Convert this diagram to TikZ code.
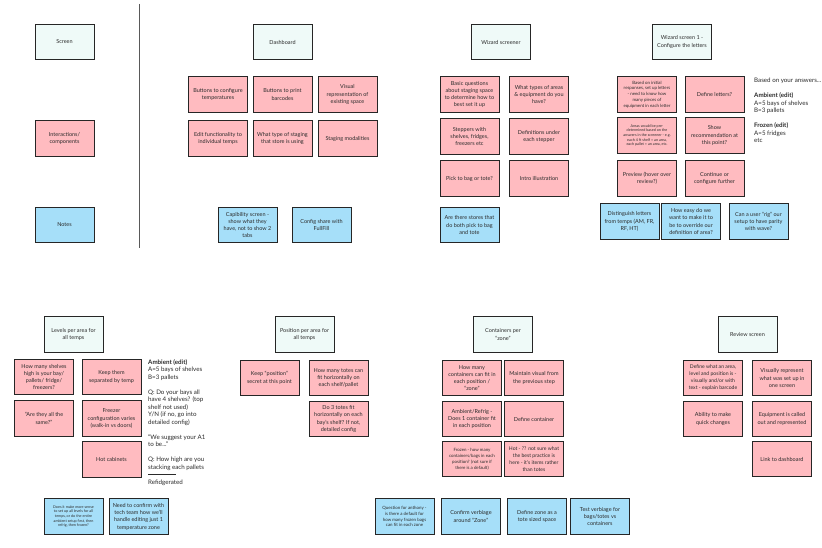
\documentclass[tikz,border=0pt]{standalone}
\usepackage{fontspec}
\setmainfont{Lato}
\definecolor{mintc}{HTML}{EFFAF8}
\definecolor{pinkc}{HTML}{FFBBC0}
\definecolor{bluec}{HTML}{A6DFF9}
\definecolor{linec}{HTML}{262626}
\definecolor{txtc}{HTML}{2B2B2B}
\begin{document}
\begin{tikzpicture}[x=1pt,y=-1pt,
  base/.style={draw=linec, line width=0.8pt, minimum width=59pt, minimum height=35.5pt, inner sep=0.5pt, align=center, text=txtc, font=\fontsize{5.5}{7.3}\selectfont},
  scr/.style={base, fill=mintc},
  comp/.style={base, fill=pinkc},
  note/.style={base, fill=bluec},
  mid/.style={font=\fontsize{5.1}{7}\selectfont},
  small/.style={font=\fontsize{4.4}{5.8}\selectfont},
  tiny/.style={font=\fontsize{3.7}{4.7}\selectfont},
  side/.style={anchor=north west, align=left, inner sep=0pt, text=txtc, font=\fontsize{6.2}{7.5}\selectfont}]
\path[use as bounding box, fill=white] (0,0) rectangle (822,548);
% left legend
\node[scr] (lscreen) at (64.5,42) {Screen};
\node[comp] (lcomp) at (64.5,138.5) {Interactions/\\components};
\node[note] (lnotes) at (64.5,225) {Notes};
\coordinate (vtop) at (139,4);
\coordinate (vbot) at (139,248);
\draw[draw=black!65, line width=0.9pt] (vtop) -- (vbot);
% Dashboard
\node[scr] (dash) at (282.5,42) {Dashboard};
\node[comp] (d1) at (218,94.5) {Buttons to configure\\temperatures};
\node[comp] (d2) at (282.5,94.5) {Buttons to print\\barcodes};
\node[comp] (d3) at (347.5,94.5) {Visual\\representation of\\existing space};
\node[comp] (d4) at (218,138.5) {Edit functionality to\\individual temps};
\node[comp] (d5) at (282.5,138.5) {What type of staging\\that store is using};
\node[comp] (d6) at (347.5,138.5) {Staging modalities};
\node[note] (dn1) at (247.5,225) {Capibility screen -\\show what they\\have, not to show 2\\tabs};
\node[note] (dn2) at (321.5,225) {Config share with\\FullFill};
% Wizard screener
\node[scr] (wsc) at (501,42) {Wizard screener};
\node[comp] (w1) at (469.5,94.5) {Basic questions\\about staging space\\to determine how to\\best set it up};
\node[comp] (w2) at (539,94.5) {What types of areas\\\& equipment do you\\have?};
\node[comp] (w3) at (469.5,136.5) {Steppers with\\shelves, fridges,\\freezers etc};
\node[comp] (w4) at (539,136.5) {Definitions under\\each stepper};
\node[comp] (w5) at (469.5,178.5) {Pick to bag or tote?};
\node[comp] (w6) at (539,178.5) {Intro illustration};
\node[note] (wn1) at (469.5,225) {Are there stores that\\do both pick to bag\\and tote};
% Wizard screen 1
\node[scr] (ws1) at (682,42) {Wizard screen 1 -\\Configure the letters};
\node[comp, small] (l1) at (647,94.5) {Based on initial\\responses, set up letters\\- need to know how\\many pieces of\\equipment in each letter};
\node[comp] (l2) at (714.5,94.5) {Define letters?};
\node[comp, tiny] (l3) at (647,135.5) {Areas would be pre-\\determined based on the\\answers in the screener - e.g.\\each 4 ft shelf = an area,\\each pallet = an area, etc.};
\node[comp] (l4) at (714.5,135.5) {Show\\recommendation at\\this point?};
\node[comp] (l5) at (647,178.5) {Preview (hover over\\review?)};
\node[comp] (l6) at (714.5,178.5) {Continue or\\configure further};
\node[note] (ln1) at (629.5,221.5) {Distinguish letters\\from temps (AM, FR,\\RF, HT)};
\node[note] (ln2) at (691,221.5) {How easy do we\\want to make it to\\be to override our\\definition of area?};
\node[note] (ln3) at (758.5,221.5) {Can a user ``rig'' our\\setup to have parity\\with wave?};
\node[side] (ans) at (754,78) {Based on your answers...\\[7.5pt]\textbf{Ambient (edit)}\\A=5 bays of shelves\\B=3 pallets\\[7.5pt]\textbf{Frozen (edit)}\\A=5 fridges\\etc};
% Levels per area
\node[scr] (lev) at (73.5,334.5) {Levels per area for\\all temps};
\node[comp] (v1) at (44,377) {How many shelves\\high is your bay/\\pallets/ fridge/\\freezers?};
\node[comp] (v2) at (111.5,377) {Keep them\\separated by temp};
\node[comp] (v3) at (44,418.5) {``Are they all the\\same?''};
\node[comp] (v4) at (111.5,418.5) {Freezer\\configuration varies\\(walk-in vs doors)};
\node[comp] (v5) at (111.5,459.5) {Hot cabinets};
\node[side] (amb) at (148,359) {\textbf{Ambient (edit)}\\A=5 bays of shelves\\B=3 pallets\\[7.5pt]Q: Do your bays all\\have 4 shelves? (top\\shelf not used)\\Y/N (if no, go into\\detailed config)\\[7.5pt]``We suggest your A1\\to be...''\\[7.5pt]Q: How high are you\\stacking each pallets\\\rule[2pt]{28pt}{0.4pt}\\Refidgerated};
\node[note, tiny] (vn1) at (73.5,516.5) {Does it make more sense\\to set up all levels for all\\temps, or do the entire\\ambient setup first, then\\refrig, then frozen?};
\node[note] (vn2) at (138.5,516.5) {Need to confirm with\\tech team how we'll\\handle editing just 1\\temperature zone};
% Position per area
\node[scr] (pos) at (304.5,334.5) {Position per area for\\all temps};
\node[comp] (p1) at (269.5,378) {Keep ``position''\\secret at this point};
\node[comp] (p2) at (338.5,378) {How many totes can\\fit horizontally on\\each shelf/pallet};
\node[comp] (p3) at (338.5,419) {Do 3 totes fit\\horizontally on each\\bay's shelf? If not,\\detailed config};
% Containers per zone
\node[scr] (con) at (503,334.5) {Containers per\\``zone''};
\node[comp] (c1) at (472,378) {How many\\containers can fit in\\each position /\\``zone''};
\node[comp] (c2) at (534,378) {Maintain visual from\\the previous step};
\node[comp] (c3) at (472,419) {Ambient/Refrig -\\Does 1 container fit\\in each position};
\node[comp] (c4) at (534,419) {Define container};
\node[comp, small] (c5) at (472,459) {Frozen - how many\\containers/bags in each\\position? (not sure if\\there is a default)};
\node[comp, mid] (c6) at (534,459) {Hot - ?? not sure what\\the best practice is\\here - it's items rather\\than totes};
\node[note, small] (cn1) at (404.5,516.5) {Question for anthony -\\is there a default for\\how many frozen bags\\can fit in each zone};
\node[note] (cn2) at (471,516.5) {Confirm verbiage\\around ``Zone''};
\node[note] (cn3) at (537,516.5) {Define zone as a\\tote sized space};
\node[note] (cn4) at (600,516.5) {Test verbiage for\\bags/totes vs\\containers};
% Review screen
\node[scr] (rev) at (747.5,334.5) {Review screen};
\node[comp, mid] (r1) at (713,378) {Define what an area,\\level and position is -\\visually and/or with\\text - explain barcode};
\node[comp] (r2) at (782,378) {Visually represent\\what was set up in\\one screen};
\node[comp] (r3) at (713,419) {Ability to make\\quick changes};
\node[comp] (r4) at (782,419) {Equipment is called\\out and represented};
\node[comp] (r5) at (782,459) {Link to dashboard};
\end{tikzpicture}
\end{document}
